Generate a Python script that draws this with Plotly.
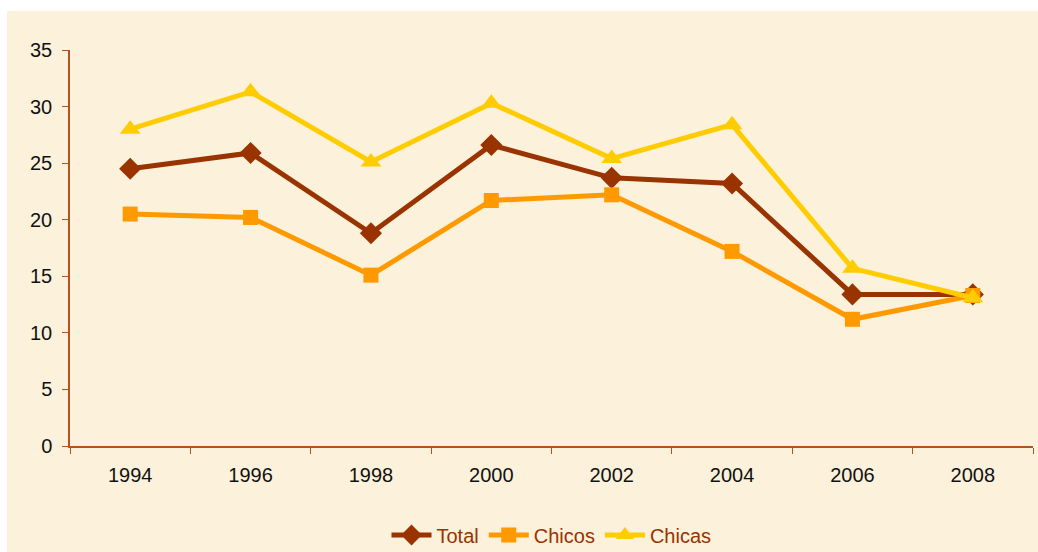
import plotly.graph_objects as go

years = ["1994", "1996", "1998", "2000", "2002", "2004", "2006", "2008"]
total = [24.5, 25.9, 18.8, 26.6, 23.7, 23.2, 13.4, 13.4]
chicos = [20.5, 20.2, 15.1, 21.7, 22.2, 17.2, 11.2, 13.3]
chicas = [28.0, 31.3, 25.1, 30.3, 25.4, 28.4, 15.7, 13.1]

W, H = 1038, 552
ml, mr, mt, mb = 70, 5, 50, 106
pw, ph = W - ml - mr, H - mt - mb

fig = go.Figure()
fig.add_trace(go.Scatter(x=years, y=total, name="Total", mode="lines+markers",
                         line=dict(color="#993300", width=5),
                         marker=dict(symbol="diamond", size=17, color="#993300")))
fig.add_trace(go.Scatter(x=years, y=chicos, name="Chicos", mode="lines+markers",
                         line=dict(color="#FF9900", width=5),
                         marker=dict(symbol="square", size=15, color="#FF9900")))
fig.add_trace(go.Scatter(x=years, y=chicas, name="Chicas", mode="lines+markers",
                         line=dict(color="#FFCC00", width=5),
                         marker=dict(symbol="triangle-up", size=18, color="#FFCC00")))

# cream background panel leaving a thin white border at top/left
fig.add_shape(type="rect", xref="paper", yref="paper", layer="below",
              x0=(7 - ml) / pw, x1=(W - ml) / pw + 0.02,
              y0=-0.35, y1=(H - mb - 11) / ph,
              fillcolor="#FCF1DB", line=dict(width=0))

fig.update_layout(
    width=W, height=H,
    margin=dict(l=ml, r=mr, t=mt, b=mb),
    paper_bgcolor="white", plot_bgcolor="rgba(0,0,0,0)",
    font=dict(family="Liberation Sans, Arial, sans-serif", size=20, color="#111111"),
    showlegend=True,
    legend=dict(orientation="h", x=0.5, xanchor="center", xref="paper",
                y=(H - 535) / H, yanchor="middle", yref="container",
                font=dict(size=20, color="#993300"), bgcolor="rgba(0,0,0,0)",
                itemwidth=40, tracegroupgap=0),
    xaxis=dict(showgrid=False, zeroline=False, showline=True, linecolor="#B5531E",
               linewidth=1.5, ticks="outside", ticklen=6, tickcolor="#B5531E",
               tickson="boundaries", tickfont=dict(size=20, color="#111111"),
               ticklabelstandoff=10, range=[-0.5, 7.5]),
    yaxis=dict(range=[0, 35], dtick=5, showgrid=False, zeroline=False, showline=True,
               linecolor="#B5531E", linewidth=1.5, ticks="outside", ticklen=6,
               tickcolor="#B5531E", tickfont=dict(size=20, color="#111111"),
               ticklabelstandoff=6),
)

fig.write_html("out.html", config={"displayModeBar": False},
               post_script="document.body.style.margin='0';")
